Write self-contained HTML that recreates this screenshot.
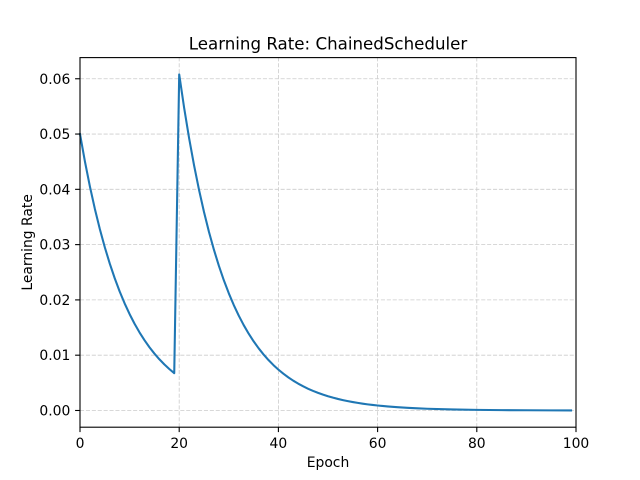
<!DOCTYPE html>
<html><head><meta charset="utf-8"><style>
html,body{margin:0;padding:0;background:#fff;}
svg{display:block;}
text{font-family:"DejaVu Sans","Liberation Sans",sans-serif;fill:#000;}
</style></head><body>
<svg width="640" height="480" viewBox="0 0 640 480" xmlns="http://www.w3.org/2000/svg">
<rect width="640" height="480" fill="#fff"/>
<!-- grid -->
<g stroke="#cccccc" stroke-width="0.8" stroke-dasharray="4.1,1.8" fill="none">
<line x1="80" y1="427.2" x2="80" y2="57.6"/>
<line x1="179.2" y1="427.2" x2="179.2" y2="57.6"/>
<line x1="278.4" y1="427.2" x2="278.4" y2="57.6"/>
<line x1="377.6" y1="427.2" x2="377.6" y2="57.6"/>
<line x1="476.8" y1="427.2" x2="476.8" y2="57.6"/>
<line x1="576" y1="427.2" x2="576" y2="57.6"/>
<line x1="80" y1="410.48" x2="576" y2="410.48"/>
<line x1="80" y1="355.19" x2="576" y2="355.19"/>
<line x1="80" y1="299.91" x2="576" y2="299.91"/>
<line x1="80" y1="244.62" x2="576" y2="244.62"/>
<line x1="80" y1="189.33" x2="576" y2="189.33"/>
<line x1="80" y1="134.05" x2="576" y2="134.05"/>
<line x1="80" y1="78.76" x2="576" y2="78.76"/>
</g>
<!-- series -->
<polyline fill="none" stroke="#1f77b4" stroke-width="2.08" stroke-linejoin="round" stroke-linecap="square" points="
80,134.05 84.96,161.69 89.92,186.57 94.88,208.96 99.84,229.11 104.8,247.25 109.76,263.57 114.72,278.26 119.68,291.48 124.64,303.38 129.6,314.09 134.56,323.73 139.52,332.41 144.48,340.21 149.44,347.24 154.4,353.56 159.36,359.26 164.32,364.38 169.28,368.99 174.24,373.14
179.2,74.40 184.16,108.01 189.12,138.26 194.08,165.48 199.04,189.98 204,212.03 208.96,231.87 213.92,249.74 218.88,265.81 223.84,280.28 228.8,293.30 233.76,305.01 238.72,315.56 243.68,325.05 248.64,333.60 253.6,341.28 258.56,348.20 263.52,354.43 268.48,360.04 273.44,365.08 278.4,369.62 283.36,373.71 288.32,377.38 293.28,380.69 298.24,383.67 303.2,386.35 308.16,388.77 313.12,390.94 318.08,392.89 323.04,394.65 328,396.23 332.96,397.66 337.92,398.94 342.88,400.09 347.84,401.13 352.8,402.07 357.76,402.91 362.72,403.67 367.68,404.35 372.64,404.96 377.6,405.51 387.52,406.46 397.44,407.22 407.36,407.84 417.28,408.34 427.2,408.75 452,409.46 476.8,409.88 501.6,410.12 526.4,410.27 551.2,410.37 571.04,410.40"/>
<!-- axes frame -->
<rect x="80" y="57.6" width="496" height="369.6" fill="none" stroke="#000" stroke-width="1.1"/>
<!-- ticks -->
<g stroke="#000" stroke-width="1.1">
<line x1="80" y1="427.2" x2="80" y2="432.1"/>
<line x1="179.2" y1="427.2" x2="179.2" y2="432.1"/>
<line x1="278.4" y1="427.2" x2="278.4" y2="432.1"/>
<line x1="377.6" y1="427.2" x2="377.6" y2="432.1"/>
<line x1="476.8" y1="427.2" x2="476.8" y2="432.1"/>
<line x1="576" y1="427.2" x2="576" y2="432.1"/>
<line x1="75.1" y1="410.48" x2="80" y2="410.48"/>
<line x1="75.1" y1="355.19" x2="80" y2="355.19"/>
<line x1="75.1" y1="299.91" x2="80" y2="299.91"/>
<line x1="75.1" y1="244.62" x2="80" y2="244.62"/>
<line x1="75.1" y1="189.33" x2="80" y2="189.33"/>
<line x1="75.1" y1="134.05" x2="80" y2="134.05"/>
<line x1="75.1" y1="78.76" x2="80" y2="78.76"/>
</g>
<g font-size="13.9" text-anchor="middle">
<text x="80" y="448">0</text>
<text x="179.2" y="448">20</text>
<text x="278.4" y="448">40</text>
<text x="377.6" y="448">60</text>
<text x="476.8" y="448">80</text>
<text x="576" y="448">100</text>
</g>
<g font-size="13.9" text-anchor="end">
<text x="70.3" y="415.5">0.00</text>
<text x="70.3" y="360.2">0.01</text>
<text x="70.3" y="304.9">0.02</text>
<text x="70.3" y="249.6">0.03</text>
<text x="70.3" y="194.3">0.04</text>
<text x="70.3" y="139.1">0.05</text>
<text x="70.3" y="83.8">0.06</text>
</g>
<text x="328" y="467" font-size="13.9" text-anchor="middle">Epoch</text>
<text x="0" y="0" font-size="13.9" text-anchor="middle" transform="translate(32,242.4) rotate(-90)">Learning Rate</text>
<text x="328" y="49.5" font-size="16.67" text-anchor="middle">Learning Rate: ChainedScheduler</text>
</svg>
</body></html>
